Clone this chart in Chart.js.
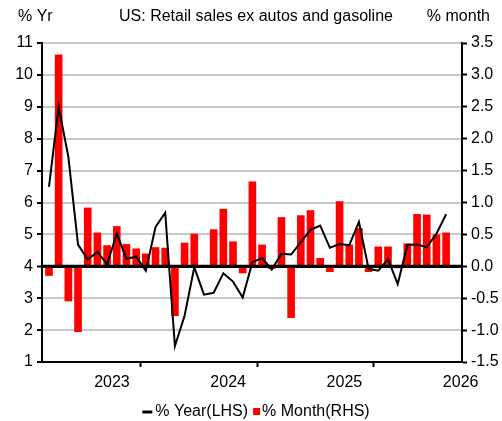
<!DOCTYPE html>
<html>
<head>
<meta charset="utf-8">
<script src="https://cdn.jsdelivr.net/npm/chart.js@4"></script>
<style>
    html, body { margin: 0; padding: 0; background: #fff; }
    #wrap { width: 502px; height: 421px; position: relative; }
</style>
</head>
<body>
<div id="wrap"><canvas id="chart"></canvas></div>
<script>
// Monthly data, Dec 2022 .. May 2026
const months = [
    'Dec 22',
    'Jan 23', 'Feb 23', 'Mar 23', 'Apr 23', 'May 23', 'Jun 23', 'Jul 23', 'Aug 23', 'Sep 23', 'Oct 23', 'Nov 23', 'Dec 23',
    'Jan 24', 'Feb 24', 'Mar 24', 'Apr 24', 'May 24', 'Jun 24', 'Jul 24', 'Aug 24', 'Sep 24', 'Oct 24', 'Nov 24', 'Dec 24',
    'Jan 25', 'Feb 25', 'Mar 25', 'Apr 25', 'May 25', 'Jun 25', 'Jul 25', 'Aug 25', 'Sep 25', 'Oct 25', 'Nov 25', 'Dec 25',
    'Jan 26', 'Feb 26', 'Mar 26', 'Apr 26', 'May 26'
];

// % Year, left axis
const yearPct = [
    6.49,
    9.00, 7.43, 4.68, 4.21, 4.45, 4.07, 5.02, 4.23, 4.31, 3.86, 5.23, 5.68,
    1.50, 2.45, 3.97, 3.11, 3.17, 3.78, 3.52, 3.02, 4.13, 4.26, 3.90, 4.39,
    4.37, 4.76, 5.14, 5.28, 4.58, 4.70, 4.66, 5.39, 3.92, 3.86, 4.23, 3.44,
    4.67, 4.68, 4.60, 5.02, 5.63
];

// % Month, right axis
const monthPct = [
    -0.15,
    3.32, -0.55, -1.03, 0.92, 0.53, 0.33, 0.63, 0.35, 0.28, 0.20, 0.30, 0.29,
    -0.78, 0.37, 0.51, 0.02, 0.58, 0.90, 0.39, -0.11, 1.33, 0.34, -0.04, 0.77,
    -0.81, 0.80, 0.88, 0.13, -0.09, 1.02, 0.34, 0.60, -0.09, 0.31, 0.31, -0.03,
    0.36, 0.82, 0.81, 0.50, 0.53
];

const titleText = 'US: Retail sales ex autos and gasoline';
const leftTitle = '% Yr';
const rightTitle = '% month';
const seriesNames = ['% Year(LHS)', '% Month(RHS)'];

const FONT = "'Liberation Sans', Arial, sans-serif";
const GRID = '#c8c8c8';
const RED = '#ff0000';

// year boundaries sit between Dec and Jan, labels in the middle of each year
const boundaries = months
    .map((m, i) => m.startsWith('Jan') ? i - 0.5 : null)
    .filter(v => v !== null);
const yearMarks = boundaries.map(b => ({ value: b + 6, label: '20' + months[b + 0.5].slice(-2) }));
const isBoundary = v => boundaries.some(b => Math.abs(b - v) < 1e-6);
const tickVal = ctx => (ctx && ctx.tick) ? ctx.tick.value : null;

Chart.defaults.font.family = FONT;
Chart.defaults.font.size = 16;
Chart.defaults.color = '#000';

// redraw the zero line above the bars, below the line
const zeroLine = {
    id: 'zeroLine',
    afterDatasetDraw(chart, args) {
        if (args.index !== 1) return;
        const { ctx, chartArea } = chart;
        const y = chart.scales.y1.getPixelForValue(0);
        ctx.save();
        ctx.strokeStyle = '#000';
        ctx.lineWidth = 3;
        ctx.beginPath();
        ctx.moveTo(chartArea.left, y);
        ctx.lineTo(chartArea.right, y);
        ctx.stroke();
        ctx.restore();
    }
};

const texts = {
    id: 'texts',
    afterDraw(chart) {
        const ctx = chart.ctx;
        ctx.save();
        ctx.fillStyle = '#000';
        ctx.font = '16px ' + FONT;
        ctx.textBaseline = 'middle';

        ctx.textAlign = 'left';
        ctx.fillText(leftTitle, 18, 17);
        ctx.textAlign = 'center';
        ctx.fillText(titleText, 256, 17);
        ctx.textAlign = 'right';
        ctx.fillText(rightTitle, 490, 17);

        // legend
        const w1 = ctx.measureText(seriesNames[0]).width;
        const w2 = ctx.measureText(seriesNames[1]).width;
        const total = 10 + 3 + w1 + 5 + 7 + 2 + w2;
        let x = 256 - total / 2;
        const ly = 412;
        ctx.strokeStyle = '#000';
        ctx.lineWidth = 3;
        ctx.beginPath();
        ctx.moveTo(x, ly);
        ctx.lineTo(x + 10, ly);
        ctx.stroke();
        x += 13;
        ctx.textAlign = 'left';
        ctx.fillText(seriesNames[0], x, ly);
        x += w1 + 5;
        ctx.fillStyle = RED;
        ctx.fillRect(x, ly - 4, 7, 7);
        x += 9;
        ctx.fillStyle = '#000';
        ctx.fillText(seriesNames[1], x, ly);
        ctx.restore();
    }
};

new Chart(document.getElementById('chart'), {
    type: 'bar',
    data: {
        datasets: [{
            type: 'line',
            label: seriesNames[0],
            data: yearPct.map((v, i) => ({ x: i, y: v })),
            yAxisID: 'y',
            borderColor: '#000',
            borderWidth: 2,
            pointRadius: 0,
            tension: 0,
            order: 0
        }, {
            type: 'bar',
            label: seriesNames[1],
            data: monthPct.map((v, i) => ({ x: i, y: v })),
            yAxisID: 'y1',
            backgroundColor: RED,
            borderWidth: 0,
            categoryPercentage: 1,
            barPercentage: 0.79,
            order: 1
        }]
    },
    options: {
        responsive: true,
        maintainAspectRatio: false,
        devicePixelRatio: 1,
        animation: false,
        layout: { padding: { top: 43, left: 0, right: 0, bottom: 0 } },
        plugins: {
            legend: { display: false },
            tooltip: { enabled: false }
        },
        scales: {
            x: {
                type: 'linear',
                offset: false,
                min: -0.72,
                max: 42.64,
                afterBuildTicks(scale) {
                    scale.ticks = boundaries.concat(yearMarks.map(m => m.value))
                        .sort((a, b) => a - b)
                        .map(v => ({ value: v }));
                },
                ticks: {
                    autoSkip: false,
                    maxRotation: 0,
                    padding: 6,
                    callback(v) {
                        const m = yearMarks.find(t => Math.abs(t.value - v) < 1e-6);
                        return m ? m.label : '';
                    }
                },
                grid: {
                    drawOnChartArea: false,
                    tickLength: 5,
                    tickWidth: 2,
                    tickColor: ctx => isBoundary(tickVal(ctx)) ? '#000' : 'rgba(0,0,0,0)'
                },
                border: { color: '#000', width: 2 },
                afterFit(scale) { scale.height = 59; }
            },
            y: {
                position: 'left',
                min: 1,
                max: 11,
                ticks: { stepSize: 1, padding: 4 },
                grid: {
                    color: ctx => (tickVal(ctx) === 4 || tickVal(ctx) === 1) ? '#000' : GRID,
                    lineWidth: ctx => tickVal(ctx) === 4 ? 3 : 2,
                    tickColor: '#000',
                    tickLength: 5,
                    tickWidth: 2
                },
                border: { color: '#000', width: 2 },
                afterFit(scale) { scale.width = 42; }
            },
            y1: {
                position: 'right',
                min: -1.5,
                max: 3.5,
                ticks: { stepSize: 0.5, padding: 4, callback: v => v.toFixed(1) },
                grid: {
                    drawOnChartArea: false,
                    tickColor: '#000',
                    tickLength: 5,
                    tickWidth: 2
                },
                border: { color: '#000', width: 2 },
                afterFit(scale) { scale.width = 40; }
            }
        }
    },
    plugins: [zeroLine, texts]
});
</script>
</body>
</html>
